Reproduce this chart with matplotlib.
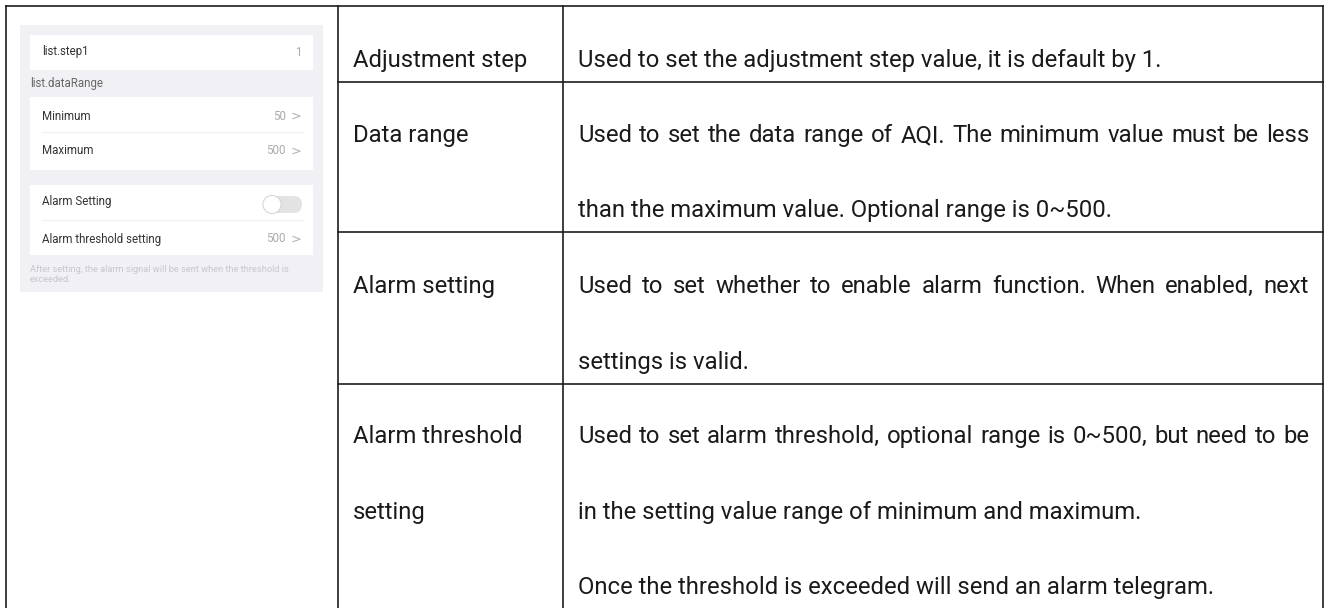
import matplotlib.pyplot as plt
from matplotlib.patches import Rectangle, FancyBboxPatch, Circle

W, H = 1327, 608

# table contents
names = [["Adjustment step"], ["Data range"], ["Alarm setting"],
         ["Alarm threshold", "setting"]]
descs = [
    ["Used to set the adjustment step value, it is default by 1."],
    ["Used to set the data range of AQI. The minimum value must be less",
     "than the maximum value. Optional range is 0~500."],
    ["Used to set whether to enable alarm function. When enabled, next",
     "settings is valid."],
    ["Used to set alarm threshold, optional range is 0~500, but need to be",
     "in the setting value range of minimum and maximum.",
     "Once the threshold is exceeded will send an alarm telegram."],
]
justify = [[False], [True, False], [True, False], [True, False, False]]

# screenshot contents
step_label, step_value = "list.step1", "1"
range_title = "list.dataRange"
range_items = ["Minimum", "Maximum"]
range_values = ["50", "500"]
alarm_items = ["Alarm Setting", "Alarm threshold setting"]
alarm_value = "500"
footer = ["After setting, the alarm signal will be sent when the threshold is",
          "exceeded."]

# layout (pixels)
x_left, x_mid1, x_mid2, x_right = 6, 338, 563, 1323
y_top = 6
row_lines = [82, 232, 384]
baselines = [[67], [142, 217], [293, 369], [443, 519], ]
baselines[3].append(594)
txt_x1, txt_x2, txt_right = 353, 578, 1309

fig = plt.figure(figsize=(W / 100, H / 100), dpi=100)
ax = fig.add_axes([0, 0, 1, 1])
ax.set_xlim(0, W)
ax.set_ylim(H, 0)
ax.axis("off")

lc = "#1e1e1e"
lw = 1.2
ax.plot([x_left, x_right], [y_top, y_top], color=lc, lw=lw)
for x in [x_left, x_mid1, x_mid2, x_right]:
    ax.plot([x, x], [y_top, H + 5], color=lc, lw=lw)
for y in row_lines:
    ax.plot([x_mid1, x_right], [y, y], color=lc, lw=lw)

font = "Roboto"
fs = 17.2
tc = "#1a1a1a"

fig.canvas.draw()
renderer = fig.canvas.get_renderer()


def text_width(s):
    t = ax.text(0, 0, s, fontsize=fs, family=font)
    bb = t.get_window_extent(renderer=renderer)
    t.remove()
    return bb.width


for r in range(4):
    for i, s in enumerate(names[r]):
        ax.text(txt_x1, baselines[r][i], s, fontsize=fs, family=font, color=tc,
                va="baseline", ha="left")
    for i, s in enumerate(descs[r]):
        y = baselines[r][i]
        if justify[r][i]:
            words = s.split(" ")
            widths = [text_width(w) for w in words]
            gap = (txt_right - txt_x2 - sum(widths)) / (len(words) - 1)
            x = txt_x2
            for w, wd in zip(words, widths):
                ax.text(x, y, w, fontsize=fs, family=font, color=tc,
                        va="baseline", ha="left")
                x += wd + gap
        else:
            ax.text(txt_x2, y, s, fontsize=fs, family=font, color=tc,
                    va="baseline", ha="left")

# phone screenshot panel
ax.add_patch(Rectangle((20, 25), 303, 267, color="#f1f1f5", lw=0))
ax.add_patch(Rectangle((30, 35), 283, 35, color="white", lw=0))
ax.add_patch(Rectangle((30, 97), 283, 73, color="white", lw=0))
ax.add_patch(Rectangle((30, 185), 283, 70, color="white", lw=0))
ax.plot([42, 303], [132, 132], color="#f0f0f0", lw=0.8)
ax.plot([42, 303], [220, 220], color="#f0f0f0", lw=0.8)

sfs = 8.3
ax.text(42, 52, step_label, fontsize=sfs, family=font, color="#333333", va="center")
ax.text(301, 52, step_value, fontsize=sfs, family=font, color="#aaaaaa", va="center", ha="right")
ax.text(30, 84, range_title, fontsize=sfs, family=font, color="#666666", va="center")
for y, item, val in zip([116, 151], range_items, range_values):
    ax.text(42, y, item, fontsize=sfs, family=font, color="#333333", va="center")
    ax.text(286, y, val, fontsize=sfs, family=font, color="#aaaaaa", va="center", ha="right")
    ax.text(296, y, ">", fontsize=sfs + 1, family="DejaVu Sans", color="#b0b0b0",
            va="center", ha="center")
ax.text(42, 202, alarm_items[0], fontsize=sfs, family=font, color="#333333", va="center")
ax.text(42, 239, alarm_items[1], fontsize=sfs, family=font, color="#333333", va="center")
ax.text(286, 239, alarm_value, fontsize=sfs, family=font, color="#aaaaaa", va="center", ha="right")
ax.text(296, 239, ">", fontsize=sfs + 1, family="DejaVu Sans", color="#b0b0b0",
        va="center", ha="center")

# toggle switch
ax.add_patch(FancyBboxPatch((263, 196), 39, 17, boxstyle="round,pad=0,rounding_size=8.5",
                            color="#e3e3e3", lw=0))
ax.add_patch(Circle((272, 204.5), 9.5, color="#cfcfcf", lw=0))
ax.add_patch(Circle((272, 204.5), 8.6, color="white", lw=0))

for y, s in zip([270, 280], footer):
    ax.text(30, y, s, fontsize=6.7, family=font, color="#c8c8cc", va="center")

fig.savefig("out.png", dpi=100)
